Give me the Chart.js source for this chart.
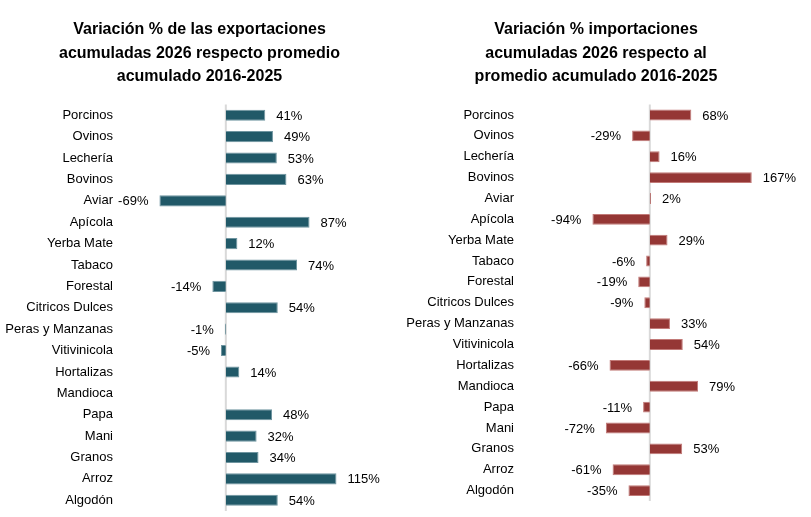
<!DOCTYPE html>
<html>
<head>
<meta charset="utf-8">
<script src="https://cdn.jsdelivr.net/npm/chart.js@4"></script>
<style>
  html, body { margin: 0; padding: 0; background: #fff; }
  #wrap { position: relative; width: 811px; height: 517px; overflow: hidden; }
  canvas { position: absolute; top: 0; }
  #expChart { left: 0; }
  #impChart { left: 392px; }
</style>
</head>
<body>
<div id="wrap">
  <canvas id="expChart" width="404" height="517"></canvas>
  <canvas id="impChart" width="412" height="517"></canvas>
</div>
<script>
const categories = [
  'Porcinos', 'Ovinos', 'Lechería', 'Bovinos', 'Aviar', 'Apícola', 'Yerba Mate',
  'Tabaco', 'Forestal', 'Citricos Dulces', 'Peras y Manzanas', 'Vitivinicola',
  'Hortalizas', 'Mandioca', 'Papa', 'Mani', 'Granos', 'Arroz', 'Algodón'
];

// variación % exportaciones (Mandioca sin dato)
const exportVals = [41, 49, 53, 63, -69, 87, 12, 74, -14, 54, -1, -5, 14, null, 48, 32, 34, 115, 54];
// variación % importaciones
const importVals = [68, -29, 16, 167, 2, -94, 29, -6, -19, -9, 33, 54, -66, 79, -11, -72, 53, -61, -35];

const exportTitle = ['Variación % de las exportaciones', 'acumuladas 2026 respecto promedio', 'acumulado 2016-2025'];
const importTitle = ['Variación % importaciones', 'acumuladas 2026 respecto al', 'promedio acumulado 2016-2025'];

const FONT = '"Liberation Sans", Arial, sans-serif';

// linea del cero + etiquetas de valor
const barLabels = {
  id: 'barLabels',
  beforeDatasetsDraw(chart) {
    const { ctx, chartArea, scales } = chart;
    const x0 = scales.x.getPixelForValue(0);
    ctx.save();
    ctx.strokeStyle = '#d9d9d9';
    ctx.lineWidth = 2;
    ctx.beginPath();
    ctx.moveTo(x0, chartArea.top);
    ctx.lineTo(x0, chartArea.bottom);
    ctx.stroke();
    ctx.restore();
  },
  afterDatasetsDraw(chart) {
    const ctx = chart.ctx;
    const meta = chart.getDatasetMeta(0);
    const vals = chart.data.datasets[0].data;
    ctx.save();
    ctx.font = '13px ' + FONT;
    ctx.fillStyle = '#000';
    ctx.textBaseline = 'middle';
    meta.data.forEach((bar, i) => {
      const v = vals[i];
      if (v === null) return;
      if (v >= 0) {
        ctx.textAlign = 'left';
        ctx.fillText(v + '%', bar.x + 11, bar.y + 1);
      } else {
        ctx.textAlign = 'right';
        ctx.fillText(v + '%', bar.x - 11, bar.y + 1);
      }
    });
    ctx.restore();
  }
};

function makeChart(id, vals, color, edge, title, opts) {
  return new Chart(document.getElementById(id), {
    type: 'bar',
    data: {
      labels: categories,
      datasets: [{
        data: vals,
        backgroundColor: color,
        borderColor: edge,
        borderWidth: 1,
        categoryPercentage: 1,
        barPercentage: 0.52
      }]
    },
    options: {
      indexAxis: 'y',
      responsive: false,
      animation: false,
      layout: { padding: { left: 0, right: opts.padRight, top: 0, bottom: opts.padBottom } },
      scales: {
        x: { display: false, min: opts.min, max: opts.max },
        y: {
          afterFit: s => { s.width = opts.axisWidth; s.paddingTop = 0; s.paddingBottom = 0; },
          grid: { display: false, drawTicks: false },
          border: { display: false },
          ticks: { color: '#000', padding: 7, font: { family: FONT, size: 13 } }
        }
      },
      plugins: {
        legend: { display: false },
        tooltip: { enabled: false },
        title: {
          display: true,
          text: title,
          color: '#000',
          font: { family: FONT, size: 16, weight: 'bold', lineHeight: 1.47 },
          padding: { top: 18, bottom: 16 }
        }
      }
    },
    plugins: [barLabels]
  });
}

makeChart('expChart', exportVals, '#215968', '#6f95a0', exportTitle,
  { min: -110, max: 180, axisWidth: 120, padRight: 5, padBottom: 6 });
makeChart('impChart', importVals, '#953735', '#c27a78', importTitle,
  { min: -211, max: 246, axisWidth: 129, padRight: 4, padBottom: 16 });
</script>
</body>
</html>
